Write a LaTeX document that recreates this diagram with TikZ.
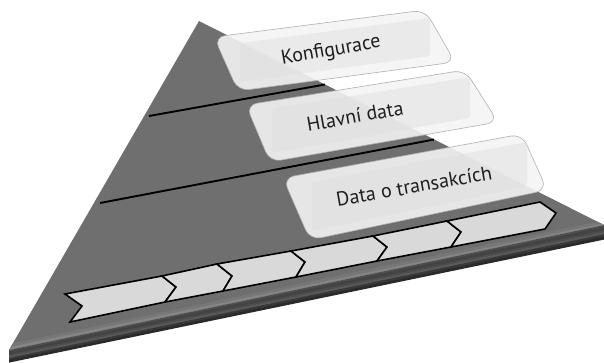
\documentclass[tikz,border=0pt]{standalone}
\usepackage{fontspec}
\setmainfont{PT Sans}
\definecolor{face}{HTML}{6F6F6F}
\definecolor{bevA}{HTML}{777777}
\definecolor{bevB}{HTML}{858585}
\definecolor{sA}{HTML}{4E4E4E}
\definecolor{sB}{HTML}{434343}
\definecolor{sC}{HTML}{4E4E4E}
\definecolor{sD}{HTML}{5A5A5A}
\definecolor{sE}{HTML}{383838}
\definecolor{sF}{HTML}{2A2A2A}
\definecolor{chevfill}{HTML}{D9D9D9}
\definecolor{boxfill}{HTML}{F4F4F4}
\definecolor{boxin}{HTML}{DCDCDC}
\definecolor{boxline}{HTML}{B0B0B0}
\definecolor{txt}{HTML}{1E1E1E}
\begin{document}
\begin{tikzpicture}[x=1pt,y=-1pt,
  boxouter/.style={fill=boxfill, fill opacity=0.9, draw=boxline, draw opacity=1, line width=0.6pt, rounded corners=11pt},
  boxinner/.style={fill=boxin, fill opacity=0.4, rounded corners=3pt},
  boxtext/.style={text=txt, font=\fontsize{20}{24}\selectfont, rotate=10, inner sep=0pt},
  sepline/.style={draw=black, line width=1.9pt},
  chev/.style={fill=chevfill, draw=black, line width=1.6pt, line join=miter}]
\useasboundingbox (0,0) rectangle (604,362);
% pyramid face
\coordinate (apex) at (199,21);
\coordinate (bl) at (9,350);
\coordinate (br) at (604,225);
\fill[face] (apex) -- (bl) -- (br) -- cycle;
% bevel near the bottom edge
\begin{scope}
  \clip (apex) -- (bl) -- (br) -- cycle;
  \fill[bevA] (0,346) -- (610,219) -- (610,222) -- (0,349) -- cycle;
  \fill[bevB] (0,349) -- (610,222) -- (610,227) -- (0,354) -- cycle;
\end{scope}
% side strip
\foreach \a/\b/\c in {0/0.15/sA, 0.15/0.38/sB, 0.38/0.52/sC, 0.52/0.66/sD, 0.66/0.84/sE, 0.84/1/sF}
  \fill[\c] (9,350+12*\a) -- (604,225+14*\a) -- (604,225.6+14*\b) -- (9,350.6+12*\b) -- cycle;
% separating lines
\coordinate (l1a) at (149,116);
\coordinate (l1b) at (325,84.5);
\coordinate (l2a) at (100,203);
\coordinate (l2b) at (434,139.5);
\draw[sepline] (l1a) -- (l1b);
\draw[sepline] (l2a) -- (l2b);
% chevron band
\coordinate (t0) at (65,294);  \coordinate (p0) at (82,306);  \coordinate (b0) at (70,322);
\coordinate (t1) at (162,276); \coordinate (p1) at (176,287); \coordinate (b1) at (165,302);
\coordinate (t2) at (217,264); \coordinate (p2) at (232,276); \coordinate (b2) at (223,291);
\coordinate (t3) at (291,251); \coordinate (p3) at (305,262); \coordinate (b3) at (296,277);
\coordinate (t4) at (373,236); \coordinate (p4) at (387,247); \coordinate (b4) at (377,261);
\coordinate (t5) at (447,221); \coordinate (p5) at (461,232); \coordinate (b5) at (451,247);
\coordinate (t6) at (540,202); \coordinate (p6) at (556,213); \coordinate (b6) at (545,229);
\foreach \i [count=\j from 1] in {0,...,5}
  \filldraw[chev] (t\i) -- (t\j) -- (p\j) -- (b\j) -- (b\i) -- (p\i) -- cycle;
% boxes
\coordinate (a1) at (214,37);  \coordinate (a2) at (425,10);  \coordinate (a3) at (455,62);  \coordinate (a4) at (238,91);
\coordinate (c1) at (246,105); \coordinate (c2) at (465,70);  \coordinate (c3) at (498,122); \coordinate (c4) at (270,162);
\coordinate (d1) at (283,178); \coordinate (d2) at (522,134); \coordinate (d3) at (547,190); \coordinate (d4) at (310,240);
\path[boxouter] (a1) -- (a2) -- (a3) -- (a4) -- cycle;
\path[boxinner] (240,43) -- (430,18) -- (430,56) -- (240,82) -- cycle;
\path[boxouter] (c1) -- (c2) -- (c3) -- (c4) -- cycle;
\path[boxinner] (272,109) -- (470,77) -- (470,118) -- (272,153) -- cycle;
\path[boxouter] (d1) -- (d2) -- (d3) -- (d4) -- cycle;
\path[boxinner] (312,182) -- (527,142) -- (527,186) -- (312,231) -- cycle;
% texts
\node[boxtext] (k) at (331,51) {Konfigurace};
\node[boxtext] (h) at (355,116) {Hlavní data};
\node[boxtext] (d) at (414,186) {Data o transakcích};
\end{tikzpicture}
\end{document}
